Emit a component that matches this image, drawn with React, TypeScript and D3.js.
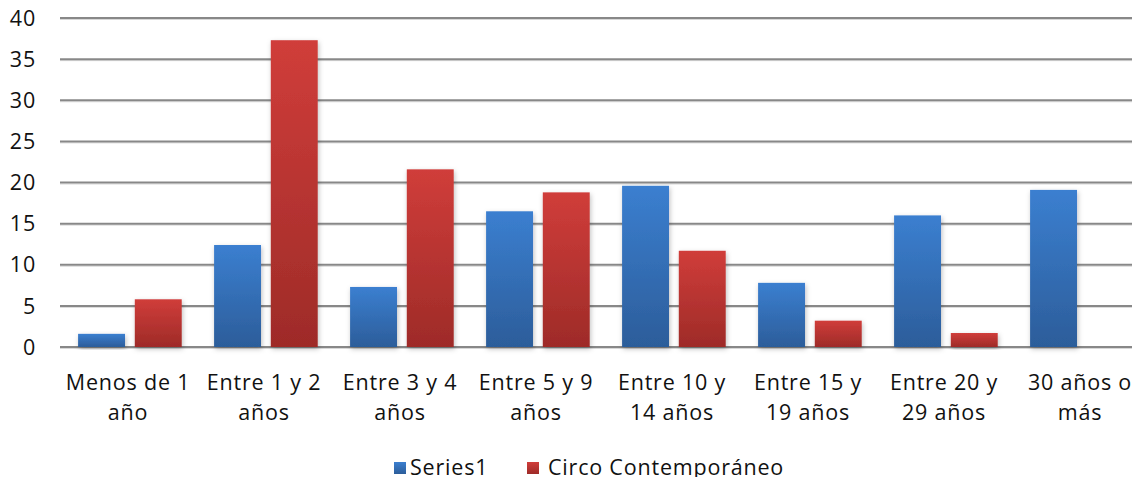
import React from "react";
import * as d3 from "d3";

const categories = [
  "Menos de 1|año",
  "Entre 1 y 2|años",
  "Entre 3 y 4|años",
  "Entre 5 y 9|años",
  "Entre 10 y|14 años",
  "Entre 15 y|19 años",
  "Entre 20 y|29 años",
  "30 años o|más",
];
const series1 = [1.6, 12.4, 7.3, 16.5, 19.6, 7.8, 16.0, 19.1];
const circo = [5.8, 37.3, 21.6, 18.8, 11.7, 3.2, 1.7, 0];
const yTicks = [0, 5, 10, 15, 20, 25, 30, 35, 40];
const seriesNames = ["Series1", "Circo Contemporáneo"];

const W = 1140;
const H = 485;
const FONT = "'Open Sans', sans-serif";
const FS = 21.5;
const LS = 0.8;

export default function App() {
  const x0 = d3.scaleBand<string>().domain(categories).range([60, 1148]).paddingInner(0).paddingOuter(0);
  const y = d3.scaleLinear().domain([0, 40]).range([347, 18]);
  const cw = x0.bandwidth();
  const barW = cw * 0.345;
  const off1 = cw * 0.133;
  const off2 = off1 + barW + cw * 0.072;

  const data = [series1, circo];
  const grads = ["gBlue", "gRed"];

  return (
    <div style={{ margin: -8 }}>
      <svg width={W} height={H} style={{ display: "block", background: "#fff" }} fontFamily={FONT}>
        <defs>
          <linearGradient id="gBlue" x1="0" y1="0" x2="0" y2="1">
            <stop offset="0" stopColor="#3b7fd0" />
            <stop offset="1" stopColor="#2c5d9a" />
          </linearGradient>
          <linearGradient id="gRed" x1="0" y1="0" x2="0" y2="1">
            <stop offset="0" stopColor="#d03d3a" />
            <stop offset="1" stopColor="#9e2b28" />
          </linearGradient>
          <filter id="sh" x="-20%" y="-20%" width="140%" height="140%">
            <feDropShadow dx="1" dy="2" stdDeviation="2.5" floodColor="#000" floodOpacity="0.25" />
          </filter>
        </defs>
        {yTicks.map((t) => (
          <g key={t}>
            <line x1={60} x2={W} y1={y(t) + 1.5} y2={y(t) + 1.5} stroke="#d8d8d8" strokeWidth={1} />
            <line x1={60} x2={W} y1={y(t)} y2={y(t)} stroke="#888" strokeWidth={2} />
            <text x={36} y={y(t)} dy="0.36em" textAnchor="end" fontSize={FS} letterSpacing={LS} fill="#111">
              {t}
            </text>
          </g>
        ))}
        {categories.map((c, i) => (
          <g key={c}>
            {data.map((s, k) => {
              const v = s[i];
              if (v <= 0) return null;
              const bx = (x0(c) as number) + (k === 0 ? off1 : off2);
              return (
                <rect
                  key={k}
                  x={bx}
                  y={y(v)}
                  width={barW}
                  height={y(0) - y(v)}
                  fill={`url(#${grads[k]})`}
                  filter="url(#sh)"
                />
              );
            })}
            {c.split("|").map((line, li) => (
              <text
                key={li}
                x={(x0(c) as number) + cw / 2}
                y={390 + li * 30}
                textAnchor="middle"
                fontSize={FS}
                letterSpacing={LS}
                fill="#111"
              >
                {line}
              </text>
            ))}
          </g>
        ))}
        <g>
          <rect x={394} y={462} width={12} height={12} fill="url(#gBlue)" />
          <text x={410} y={475} fontSize={FS} letterSpacing={LS} fill="#111">{seriesNames[0]}</text>
          <rect x={527} y={462} width={12} height={12} fill="url(#gRed)" />
          <text x={548} y={475} fontSize={FS} letterSpacing={LS} fill="#111">{seriesNames[1]}</text>
        </g>
      </svg>
    </div>
  );
}
